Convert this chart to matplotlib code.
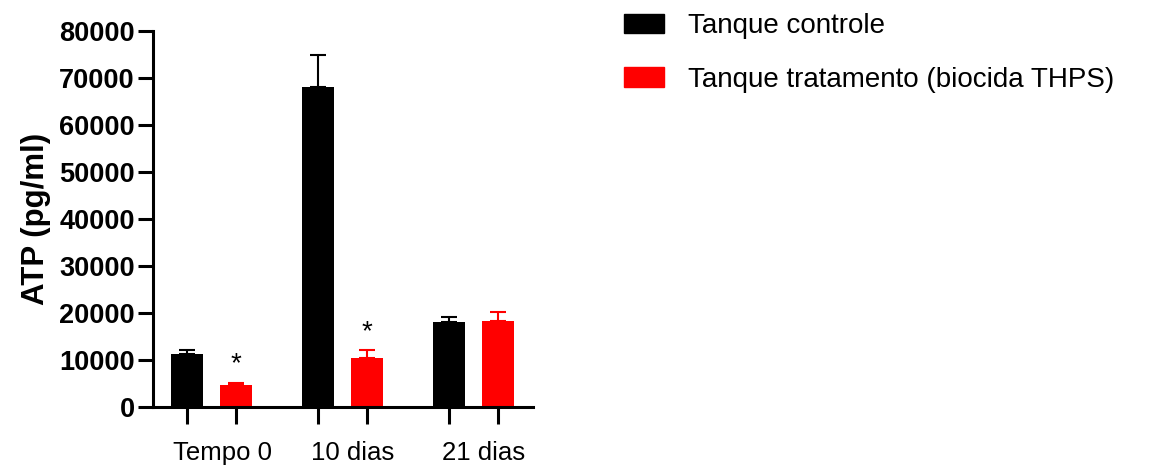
import matplotlib
matplotlib.use('Agg')
import matplotlib.pyplot as plt
from matplotlib.patches import Patch

plt.rcParams['font.family'] = ['Liberation Sans', 'DejaVu Sans']

grupos = ['Tempo 0', '10 dias', '21 dias']
controle = [11400, 68000, 18100]
controle_erro = [900, 6900, 1200]
tratamento = [4800, 10500, 18300]
tratamento_erro = [350, 1600, 1900]
significativo = [True, True, False]
series = ['Tanque controle', 'Tanque tratamento (biocida THPS)']
cores = ['black', '#ff0000']

def posicoes():
    passo = 2.67
    x_ctrl = [i * passo for i in range(len(grupos))]
    x_trat = [x + 1 for x in x_ctrl]
    return x_ctrl, x_trat

def desenha(ax):
    x_ctrl, x_trat = posicoes()
    largura = 0.65
    ax.bar(x_ctrl, controle, largura, color=cores[0])
    ax.bar(x_trat, tratamento, largura, color=cores[1])
    ax.errorbar(x_ctrl, controle, yerr=[[0] * 3, controle_erro], fmt='none',
                ecolor=cores[0], elinewidth=1.5, capsize=6, capthick=1.5)
    ax.errorbar(x_trat, tratamento, yerr=[[0] * 3, tratamento_erro], fmt='none',
                ecolor=cores[1], elinewidth=1.5, capsize=6, capthick=1.5)
    # asterisco sobre as barras com diferenca significativa
    for x, v, e, s in zip(x_trat, tratamento, tratamento_erro, significativo):
        if s:
            ax.annotate('*', (x, v + e), xytext=(0, 4), textcoords='offset points',
                        ha='center', va='bottom', fontsize=20)

    ax.set_xlim(-0.69, 7.06)
    ax.set_ylim(0, 80000)
    ax.set_yticks(range(0, 80001, 10000))
    for lab in ax.get_yticklabels():
        lab.set_fontweight('bold')
    ax.tick_params(axis='y', labelsize=19.5, length=11, width=2.2, pad=2)
    ax.set_ylabel('ATP (pg/ml)', fontsize=22.5, fontweight='bold', labelpad=6)

    # marcas em cada barra, rotulos dos grupos como ticks menores
    ax.set_xticks(x_ctrl + x_trat)
    ax.set_xticklabels([])
    ax.tick_params(axis='x', which='major', length=12, width=2.2)
    centros = [(a + b) / 2 + 0.22 for a, b in zip(x_ctrl, x_trat)]
    ax.set_xticks(centros, minor=True)
    ax.set_xticklabels(grupos, minor=True)
    ax.tick_params(axis='x', which='minor', length=0, labelsize=18.5, pad=24)

    for lado in ['top', 'right']:
        ax.spines[lado].set_visible(False)
    for lado in ['left', 'bottom']:
        ax.spines[lado].set_linewidth(2.2)

fig = plt.figure(figsize=(11.7, 4.7), dpi=100)
ax = fig.add_axes([0.1308, 0.133, 0.3248, 0.8017])
desenha(ax)

handles = [Patch(color=c) for c in cores]
fig.legend(handles, series, loc='upper left', bbox_to_anchor=(0.533, 0.972),
           frameon=False, fontsize=20, borderpad=0, borderaxespad=0,
           handlelength=1.45, handleheight=0.72, handletextpad=0.86,
           labelspacing=1.0)

fig.savefig('out.png', dpi=100)
